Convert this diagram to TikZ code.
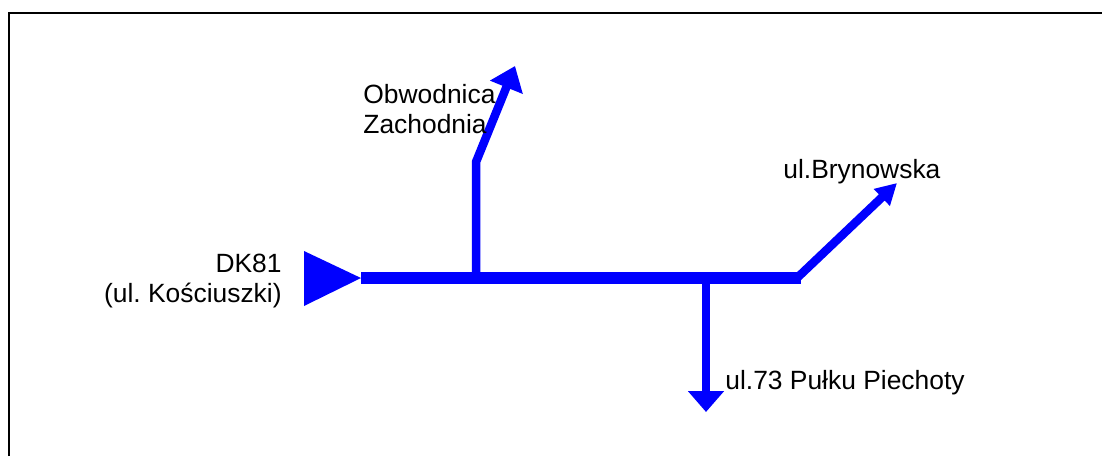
\documentclass[tikz,border=0pt]{standalone}
\usepackage{fontspec}
\setmainfont{Liberation Sans}
\usetikzlibrary{arrows.meta}
\definecolor{roadblue}{RGB}{0,0,255}
\frenchspacing
\begin{document}
\begin{tikzpicture}[x=0.5pt,y=-0.5pt,
  road/.style={draw=roadblue, line width=5.75pt, line cap=butt},
  branch/.style={draw=roadblue, line width=4.25pt, line cap=butt, line join=miter},
  lbl/.style={inner sep=0pt, font=\frenchspacing\fontsize{13.2}{14.75}\selectfont, text=black}]
  % page and frame (top and left edges only)
  \useasboundingbox (0,0) rectangle (1102,456);
  \draw[line width=1pt] (9,456) -- (9,13) -- (1102,13);

  % junction points of the road network
  \coordinate (west)  at (361,278);
  \coordinate (jn)    at (476,278);
  \coordinate (js)    at (706,278);
  \coordinate (east)  at (801,278);
  \coordinate (bend)  at (476,162);
  \coordinate (ntip)  at (515,66);
  \coordinate (netip) at (897,183);
  \coordinate (stip)  at (706,412);

  % entry marker
  \coordinate (entryA) at (304,251);
  \coordinate (entryB) at (304,306);
  \fill[roadblue] (entryA) -- (west) -- (entryB) -- cycle;

  % main road
  \draw[road] (west) -- (east);

  % branches
  \draw[branch, -{Triangle[length=11.5pt,width=17pt]}] (jn) -- (bend) -- (ntip);
  \draw[branch, -{Triangle[length=10.5pt,width=11pt]}] ([xshift=-2]east) -- (netip);
  \draw[branch, -{Triangle[length=10.5pt,width=17.5pt]}] (js) -- (stip);

  % labels
  \node[lbl, align=right, anchor=north east] (lwest) at (282,254) {DK81\\(ul. Kościuszki)};
  \node[lbl, align=left, anchor=north west] (lnorth) at (363,84) {Obwodnica\\Zachodnia};
  \node[lbl, anchor=base west] (lne) at (783,178) {ul.Brynowska};
  \node[lbl, anchor=base west] (lsouth) at (725,389) {ul.73 Pułku Piechoty};
\end{tikzpicture}
\end{document}
